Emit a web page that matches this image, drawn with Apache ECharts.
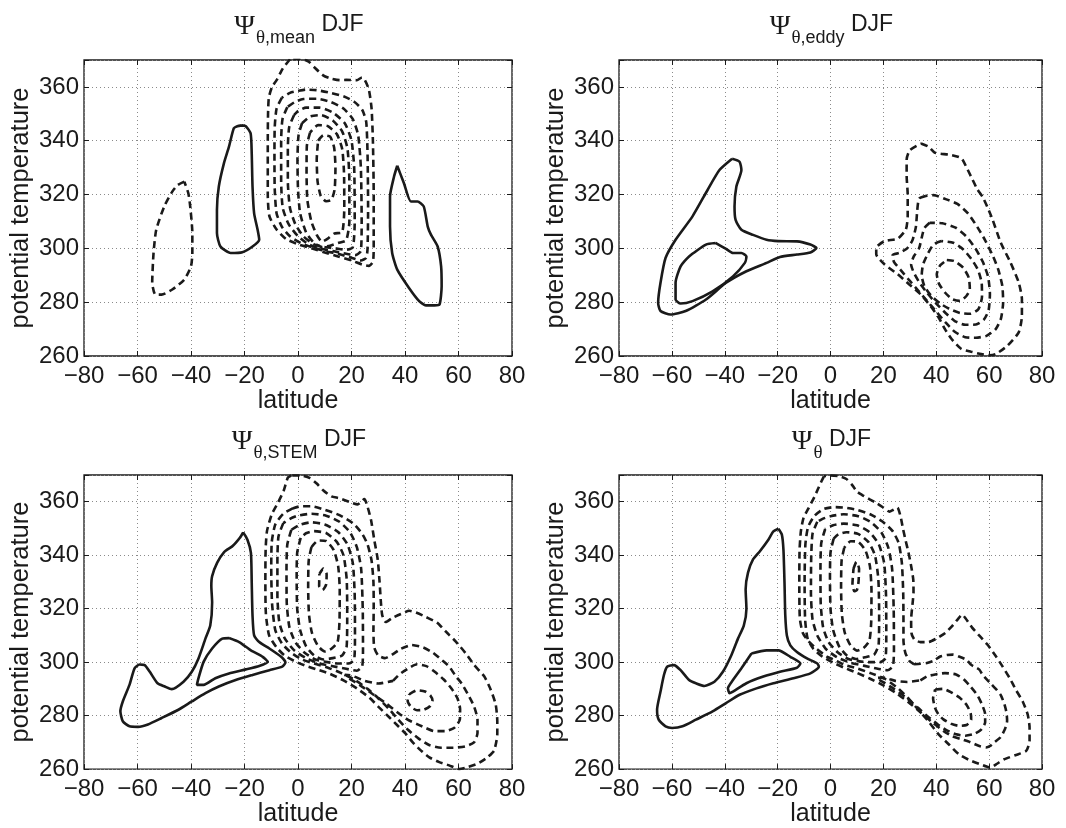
<!DOCTYPE html>
<html>
<head>
<meta charset="utf-8">
<script src="https://cdn.jsdelivr.net/npm/echarts@6/dist/echarts.min.js"></script>
<style>
html,body{margin:0;padding:0;background:#fff}
#chart{width:1066px;height:828px}
</style>
</head>
<body>
<div id="chart"></div>
<script>
// Axis ticks
const latTicks = [-80, -60, -40, -20, 0, 20, 40, 60, 80];
const thetaTicks = [260, 280, 300, 320, 340, 360];
const thetaTop = 370;

// ---------- Psi_theta,mean (DJF) ----------
const meanDashSH = [[-42.5,324.8],[-45,323.5],[-47,321.1],[-50,315.6],[-53,306.9],[-54,298.3],[-54.5,287.2],[-53.3,282.8],[-51,282.8],[-47,284.7],[-42.5,288.4],[-40,293.3],[-39.5,298.3],[-39.5,305.7],[-40.3,315.6],[-41,320.5],[-42.5,324.8]];
const meanSolidSH = [[-21,345.7],[-22.7,345.4],[-24,344.6],[-25.8,337.8],[-27.7,331.6],[-29.6,323],[-30.3,314.3],[-30.3,305.7],[-29,300.7],[-25.2,298.3],[-20.8,298.6],[-17,300.7],[-14.5,303.2],[-15.1,306.9],[-16.4,313],[-17,323],[-17.3,335.3],[-17.7,342.7],[-19.5,345.4],[-21,345.7]];
const meanSolidNH = [[37.1,330.7],[39.6,324.2],[42.2,317.4],[44.7,317.4],[47,315.6],[48.5,308.1],[49.7,305.1],[52.2,300.7],[53.5,293.3],[53.7,285.9],[52.9,279.1],[51,278.8],[47.8,278.8],[45.3,280.4],[41.5,285.3],[37.1,292.1],[35.2,298.3],[34.4,308.1],[34.4,319.3],[35.9,326.7],[37.1,330.7]];
const meanTrop1 = [[-3,370.3],[-5.7,366.8],[-8,362.5],[-9.7,360],[-10.9,356],[-11.2,350],[-11.3,340],[-11.3,320],[-10.7,312],[-8,307],[-4.5,303.5],[0,301.5],[5,300],[10,298.5],[15,297],[20,295.5],[24,294],[26.5,293.5],[28,295],[28.3,300],[28.3,320],[28,340],[27.5,352],[26.5,359],[25,362.5],[23.9,363.5],[22,362.5],[18,362.6],[15.7,362.5],[12,363.2],[9.4,364.3],[6,367.4],[4,369.4],[1,370.5],[-3,370.3]];
const meanTrop2 = [[-6,356],[-8,352],[-8.7,345],[-8.8,335],[-8.7,322],[-8,313],[-6,308],[-3,304.5],[1,302],[5,300.5],[10,299],[15,298],[20,296.5],[23.5,295.5],[25.5,296.5],[26,300],[26.2,315],[26,335],[25.5,347],[24,351.5],[21,354.5],[17,356.5],[12,357.8],[7,358.8],[3,359],[0,358.5],[-3,357.8],[-6,356]];
const meanTrop3 = [[-4,352.5],[-5.8,348],[-6.3,340],[-6.3,325],[-5.7,315],[-3.5,309],[0,304.5],[4,301.5],[8,300],[13,299],[18,298],[21.5,297.5],[23.5,299],[23.8,310],[23.5,330],[22.5,342],[20.5,348],[17,352],[12,354.5],[7,355.6],[2,355.5],[-1,354.5],[-4,352.5]];
const meanTrop4 = [[-1.5,349.5],[-3.3,345],[-3.8,337],[-3.8,325],[-3,315],[-1,309],[2,304.5],[6,301.5],[10,300.5],[14,300],[18,299.5],[20.5,300.5],[21.2,310],[21,330],[20,340],[17.5,346.5],[13,350.5],[8,352.3],[3,352.3],[0,351],[-1.5,349.5]];
const meanTrop5 = [[1.5,346.5],[0.2,342],[-0.2,333],[0,322],[0.8,313],[3,306],[6,302],[9,300.5],[12,301],[15,302],[18,303],[19.2,310],[19.2,325],[18.5,337],[16.5,343.5],[13,347.5],[8.5,349.5],[4.5,349],[1.5,346.5]];
const meanTrop6 = [[4.5,343],[3.3,338],[3.2,328],[3.5,318],[5,310],[7,305],[9,302.5],[11,303.5],[13.5,305.5],[16.5,306],[17.3,315],[17.2,328],[16.5,337],[14.5,342.5],[11,345.5],[7.5,345.8],[4.5,343]];
const meanTrop7 = [[7.5,340],[9.5,342],[12,341.5],[13.5,337.5],[14,330],[13.7,322],[12.5,318],[10.5,317.5],[8.5,319.5],[7.3,325],[7,333],[7.5,340]];

// ---------- Psi_theta,eddy (DJF) ----------
const eddySolidOuter = [[-37.2,333.3],[-34.4,332.2],[-33.7,329.1],[-35.6,323],[-36.3,315.6],[-35.9,310.6],[-33.7,306.9],[-29.3,305],[-24.2,303.2],[-19.7,302.7],[-12.7,302.6],[-7.6,301.4],[-5.3,300.1],[-7.6,298.5],[-12.7,297.7],[-19.1,296.8],[-24.2,294.6],[-31.8,291.5],[-39.5,287.2],[-47.1,281],[-54.8,276.7],[-60.5,275.4],[-64.3,276.7],[-65.2,279.8],[-64.3,287.2],[-62.4,296.4],[-58.6,303.2],[-52.2,311.9],[-46.5,321.7],[-42,329.1],[-37.2,333.3]];
const eddySolidInner = [[-43.5,302],[-47.1,301.4],[-53.5,297],[-56.7,293.3],[-58.6,287.2],[-58.6,281],[-56.7,279.5],[-52.2,280.4],[-44.6,284],[-36.9,289.6],[-32.4,294.6],[-31.8,297],[-33.7,298.3],[-36.9,298.3],[-39.5,299.8],[-43.5,302]];
const eddyNH1 = [[34.2,339],[37.1,337.8],[39.6,335.5],[45,334.8],[49.5,333.5],[51.5,330],[53.5,326],[55.5,322],[57.6,319],[59.5,315],[61.3,310.7],[64.4,302.1],[68.1,294.7],[71.2,287.3],[72.4,281.1],[72.4,274.9],[71.2,268.8],[66.9,263.8],[62.5,260.7],[60,260.3],[57,260.7],[53.2,261.6],[49.5,262.6],[45.8,266.3],[43.3,270],[40.9,274.3],[37.8,278.6],[34,283],[29.7,286.7],[25.4,290.4],[20.4,294.1],[17.3,297.8],[17.3,300.2],[20.4,302.7],[25.4,303.6],[28.5,307],[29.2,312],[29.2,320],[28.8,327],[28.8,333],[30,336.5],[34.2,339]];
const eddyNH2 = [[36,319.5],[33.5,318.5],[32.8,314],[32.3,308],[31,303],[29,300],[26,298.3],[23.5,297.5],[24,295],[26.5,292],[29.5,288.5],[33,284.5],[36.5,280.5],[40,276.5],[43.5,272.5],[47,269],[51,267],[55,266.8],[59,267.5],[62.5,270],[64.5,274],[65.3,280],[65,286],[63.5,292],[61.5,297],[58.5,303],[55.5,308],[52,313],[48,316.5],[43,318.5],[39,319.8],[36,319.5]];
const eddyNH3 = [[37.5,309.5],[35.5,307.5],[34.5,304],[33.5,300],[31.5,297],[30.5,294],[31.5,291],[33.5,287.5],[36.5,283.5],[40,279.5],[43.5,276],[47,273],[51,271.6],[55,271.7],[58,273.5],[59.8,277],[60.3,283],[59.6,289.5],[57.6,295],[54.8,300],[51.3,304.5],[47.3,307.7],[42.3,309.3],[37.5,309.5]];
const eddyNH4 = [[42,302.7],[39,301.5],[36.8,298],[35,294],[34.5,290],[35.5,286],[38,282.5],[41.5,279.5],[45,277.5],[49,276],[53,275.7],[56,277.5],[57.3,282],[57.2,287],[55.8,292],[53.3,296],[50.2,299.6],[46.4,302.1],[42,302.7]];
const eddyNH5 = [[44,295.7],[46.8,295.3],[50.2,292.8],[52.3,289.1],[52.7,284.8],[51.4,282.3],[48.9,280.5],[46.1,281.1],[43.3,283.6],[41.1,286.7],[40.2,290.4],[41.5,293.7],[44,295.7]];

// ---------- Psi_theta,STEM (DJF) ----------
const stemSolidOuter = [[-20.5,348.5],[-21.8,346.4],[-23.3,344.6],[-24.6,343.3],[-27.7,341.1],[-30.2,337.2],[-32.1,332.2],[-32.4,328.5],[-32.1,322.3],[-32.8,313.7],[-34.6,308.8],[-37.2,301.4],[-39.7,296.4],[-42.8,292.7],[-47.2,289.9],[-49.8,290.9],[-52.5,292.1],[-55.4,296.4],[-57.3,298.9],[-59.2,299.1],[-61.1,297.7],[-63,291.5],[-65.5,285.3],[-66.4,281.6],[-65.5,277.9],[-63,276],[-59.8,275.8],[-56.1,276.7],[-51,279.1],[-44.7,282.2],[-39.7,285.3],[-34.6,288.4],[-29.6,290.9],[-23.3,293.3],[-17,295.2],[-10.7,297],[-5.9,298.3],[-4.7,299.9],[-6.3,302],[-10.7,305.1],[-14.5,307.5],[-16.4,310],[-17,317.4],[-17.3,329.8],[-17.6,340.9],[-18.9,345.8],[-20.5,348.5]];
const stemSolidInner = [[-25.8,309],[-28.3,308.8],[-32.1,305.1],[-35.3,300.1],[-37.4,293.3],[-37.8,291.5],[-35.3,291.5],[-30.9,294],[-25.8,295.8],[-19.5,297.3],[-14.5,298.6],[-11.3,300.1],[-13.2,302],[-17.6,304.4],[-22,307.5],[-25.8,309]];
const stemMerged1 = [[-2.5,369.8],[-3.8,369],[-5.4,364],[-7.5,359.6],[-9.8,355.3],[-11.6,349],[-12.1,342],[-12.2,330],[-12,318],[-10.8,310],[-8,305.5],[-4.8,302.3],[-0.5,300],[3,298.6],[7,297.3],[12,295.6],[17,293.2],[22,290.2],[26.7,286.7],[30.4,283],[34.2,279.3],[37.3,276.2],[40.4,273.1],[42.9,270],[46,266.9],[49.1,264.4],[52.8,262.6],[56.5,261.4],[60.2,260],[62.7,260.5],[67.1,262],[70.8,264.4],[73.3,266.9],[74.5,273.1],[74.5,278],[73.9,284.2],[72,289.8],[69.6,294.7],[65.8,299],[62.7,303.3],[59,307.7],[55.3,311.4],[52,314.8],[47.8,316.9],[44,318.6],[41.6,319.2],[38.5,318],[35.2,316.5],[32.8,315],[31.5,317.5],[31,322.3],[30.5,330],[29.8,338.4],[28.5,345.8],[27.3,353.2],[26,358.1],[24.8,361],[22.3,359],[19.5,359.8],[15.5,361.3],[12.5,362],[9.4,364.3],[7,366.8],[4.5,368.8],[1,369.8],[-2.5,369.8]];
const stemMerged2 = [[-2,357.5],[-5.5,355.5],[-8.5,351.5],[-9.8,345],[-10,335],[-9.7,322],[-8.5,312],[-6,307],[-2.5,303.5],[1.5,301],[6,299.5],[11,298],[16,296],[21,293.5],[26,290],[30,286.5],[34,282.5],[37.5,278.5],[41,274.8],[45,271.5],[49,269],[53.5,268],[58,268],[62.5,268.5],[65.8,270],[67.1,273.5],[67.1,278.5],[65.8,283.5],[63.5,288],[61.2,292],[58.8,295],[56.5,298.4],[53.5,301],[50.5,303.5],[46.8,305.5],[42.5,306.4],[38.5,305],[35.5,303],[32.5,301.5],[30,302.5],[28.5,305.5],[28.2,312],[28.3,320],[28.2,330],[27.5,338],[26,344],[24,348],[20.5,352],[15.5,355],[10,357],[5,358.3],[1,358.3],[-2,357.5]];
const stemTrop3 = [[-5.5,352],[-7.3,347],[-7.7,338],[-7.7,325],[-7,315],[-5,309],[-1.5,304.5],[3,301.5],[8,299.5],[13,298.5],[18,297.5],[22,296.8],[24,298.5],[24.3,305],[24.2,320],[23.6,335],[22,343],[19.5,348.5],[15.5,352.5],[10.5,354.8],[5,355.5],[0,354.8],[-3,353.6],[-5.5,352]];
const stemTrop4 = [[-2.5,349.5],[-4,344],[-4.3,335],[-4.2,322],[-3.2,313],[-1,307.5],[2.5,303.5],[6.5,301],[11,300],[15,299.5],[19,299.5],[21,301],[21.3,310],[21.2,325],[20.5,337],[18.5,344],[15,348.7],[10,351.5],[5,352.3],[1,351.5],[-2.5,349.5]];
const stemTrop5 = [[1,346.5],[-0.3,341],[-0.5,332],[-0.3,320],[0.8,312],[3,306],[6,302.5],[9.5,301],[13,301.5],[16.5,302.5],[18.2,306],[18.4,318],[18.2,331],[17,340],[14.5,345],[10.5,348.3],[6,349],[3,348.2],[1,346.5]];
const stemTrop6 = [[5,343],[4,338],[3.8,328],[4.1,318],[5.2,311],[7.5,306],[10,304],[12.5,305],[14.8,307.5],[15.5,315],[15.6,327],[15,336],[13.3,342],[10.5,345.3],[7.5,345.5],[5,343]];
const stemTrop7 = [[8,333],[9.5,335],[10.7,333],[10.5,329],[9.2,327],[7.9,328.5],[8,333]];
const stemNH3 = [[35.5,293],[38,295.5],[41,297.5],[44.5,299.2],[48,298.5],[51,296.5],[54.5,293.5],[57.5,290],[59.6,286.5],[60.6,282.5],[60.5,278.5],[58.5,275.5],[55,274.2],[51,274.2],[47.5,275.5],[44.5,276.8],[41,278.5],[37.5,281],[33,284.5],[28,288],[23,291.5],[19,294],[17.5,295.3],[20,295],[25,293],[30,292],[35.5,293]];
const stemNH4 = [[41.6,288],[44.5,289.5],[47.5,289],[49.5,287.5],[50.3,285.5],[49.3,283.5],[47,282.2],[44.5,282],[42.3,283.2],[41,285.5],[41.6,288]];

// ---------- Psi_theta (DJF) ----------
const totSolidOuter = [[-19.7,349.9],[-21.6,348.9],[-23.5,345.8],[-26.7,341.5],[-29.3,338.4],[-31.2,333.5],[-32.1,327.3],[-31.8,319.9],[-32.8,313.7],[-35,308.8],[-37.5,302.6],[-40.7,296.4],[-43.9,292.7],[-47.7,291.1],[-50.9,292.1],[-53.5,293.3],[-56.7,297],[-59.2,298.9],[-61.8,298.3],[-63,295.2],[-64.3,289],[-65.6,282.2],[-65,278.5],[-62.4,276],[-59.9,275.4],[-56,276],[-50.9,278.5],[-44.6,281.6],[-39.5,284.7],[-34.4,287.8],[-28,290.2],[-21.6,292.1],[-14,294],[-7.6,295.8],[-4.4,298.3],[-5,299.5],[-8.9,301.4],[-12.7,303.8],[-15.2,306.3],[-16.5,310],[-17.1,317.4],[-17.4,329.8],[-17.8,342.1],[-18.4,347.7],[-19.7,349.9]];
const totSolidInner = [[-29.9,303.2],[-24.2,304.4],[-19.7,304.4],[-15.2,302],[-11.4,299.5],[-12.7,297.9],[-19.1,296.4],[-25.4,294.6],[-31.8,292.1],[-36.9,289],[-38.2,288.4],[-38.8,290.2],[-36.9,293.3],[-33.7,297.7],[-29.9,303.2]];
const totMerged1 = [[-2.5,369.5],[-3.5,367.5],[-6,362],[-8.5,357.2],[-10.2,354],[-11.2,349],[-11.7,342],[-11.8,330],[-11.6,316.4],[-10.5,311],[-8.5,308],[-5.5,305.2],[-1.5,302.2],[2,300.6],[5.2,299],[10.3,297.6],[15.4,295.8],[20.5,293.8],[25.6,290.2],[29.4,286.5],[33.2,282.2],[37,277.9],[40.9,273],[44.7,269.3],[48.5,265.6],[52.3,263.5],[57,261.7],[60.5,260.6],[63,262],[65.5,263.6],[70.2,265.3],[74,266.8],[75.3,270.5],[75.3,275.5],[74.6,280.4],[72.7,285.3],[70.2,289.5],[67.8,294],[65,298.5],[62.5,302.3],[59.5,306.4],[56.5,309.7],[53.5,313],[51,316.5],[49.8,317.8],[48.5,316.5],[46,313.5],[43.5,311],[40,308.8],[37,307.5],[34,307.5],[31.7,308.5],[30.6,311],[30.5,316],[31,321.5],[31.4,326],[31.3,331],[30.5,336],[29.5,341],[28.3,346],[27.4,350],[26.5,354.5],[25.3,357.8],[23.8,357],[22.3,356.3],[20,357.8],[17.5,359.4],[15,360.8],[12,362.5],[10,363.8],[8,366.5],[6,368.5],[3,369.6],[0,369.8],[-2.5,369.5]];
const totMerged2 = [[31.6,299.2],[34,299.4],[36.5,299.7],[39,300.5],[41.5,302.1],[44,302.7],[46.4,302.8],[48.3,302.2],[51.4,300.9],[53.2,299],[56.3,297.2],[57.5,295.3],[60.6,292],[63,289.5],[64.5,287.5],[65.8,284.2],[66.6,281],[66.8,278],[66,275],[64.3,271.9],[62,270],[60.6,268.8],[58.8,268.1],[56.3,268.6],[54.4,269.4],[52,270.4],[49.5,271.2],[46,272.3],[42.7,274.3],[38.5,277.5],[34,281.3],[29.5,285],[25,288.3],[20,291.3],[15,293.8],[10,296],[5,298],[1,299.8],[-3,302],[-6.5,305],[-8.7,309],[-9.6,316],[-9.8,330],[-9.5,344],[-8.5,350.5],[-6,354.8],[-2.5,357.3],[1.5,358],[5.5,357.8],[10,357],[15,355.3],[19.5,352.7],[23.5,349],[25.8,344.5],[27,337],[27.5,326],[27.6,315],[27.6,308],[28.3,303.5],[29.8,300.5],[31.6,299.2]];
const totTrop3 = [[-5,352.5],[-6.8,348],[-7.3,339],[-7.4,326],[-6.8,316],[-5,310],[-1.8,305],[2.5,301.8],[7.5,299.8],[12.5,298.7],[17.5,297.6],[21.5,297],[23.6,298.5],[24,305],[23.9,320],[23.3,335],[21.8,343],[19.2,348.6],[15.2,352.4],[10.5,354.6],[5,355.3],[0,354.6],[-3,353.6],[-5,352.5]];
const totTrop4 = [[-2,349.8],[-3.5,344.5],[-3.8,335],[-3.7,322],[-2.8,313],[-0.7,307.5],[2.8,303.6],[6.8,301.2],[11,300.3],[15,300],[18.8,300],[20.8,301.5],[21.1,310],[21,325],[20.3,337],[18.3,344],[14.8,348.6],[10,351.2],[5,351.8],[1,351.2],[-2,349.8]];
const totTrop5 = [[1.2,346.2],[0,341],[-0.2,332],[0,320],[1,312],[3.2,306],[6.2,302.5],[9.6,301.2],[13,301.8],[16.5,302.8],[18.2,306.5],[18.4,318],[18.1,331],[16.8,340],[14.3,345],[10.4,348],[6,348.6],[3,347.8],[1.2,346.2]];
const totTrop6 = [[5.2,342.8],[4.2,338],[4,328],[4.3,318],[5.4,311],[7.6,306.2],[10,304.3],[12.5,305.3],[14.7,308],[15.4,315],[15.5,327],[14.9,336],[13.2,341.8],[10.4,345],[7.6,345.2],[5.2,342.8]];
const totTrop7 = [[8.7,335],[9.8,337.5],[10.8,335],[10.6,330],[10,327],[9,326.5],[8.3,329],[8.7,335]];
const totNH3 = [[34,293.2],[36.5,294.7],[39.6,295.4],[43.3,295.9],[47.5,295.4],[50.5,293.5],[53,290.8],[55.5,287.7],[57.3,284.2],[58.5,280.5],[58.5,277.5],[57,274.8],[54.5,273.2],[51,272.5],[47.5,273],[44,274.5],[40.5,276.8],[37,279.5],[33,283],[28.5,286.8],[24,290],[20,292.5],[17.5,294],[20,294.2],[24.5,293],[29,292.6],[34,293.2]];
const totNH4 = [[39.6,289.8],[42.5,290],[45.5,288.8],[48.9,286.7],[51.5,284],[53,281],[53.2,278.5],[51.5,276.5],[48.5,276.2],[45.5,277],[42.7,278.6],[40.8,280.5],[39.5,283],[38.8,286.5],[39.6,289.8]];

// Panel titles: subscript text after the theta
const titleSubs = [',mean', ',eddy', ',STEM', ''];

// Solid = positive, dashed = negative contours
const panelCurves = [
  { solid: [meanSolidSH, meanSolidNH],
    dashed: [meanDashSH, meanTrop1, meanTrop2, meanTrop3, meanTrop4, meanTrop5, meanTrop6, meanTrop7] },
  { solid: [eddySolidOuter, eddySolidInner],
    dashed: [eddyNH1, eddyNH2, eddyNH3, eddyNH4, eddyNH5] },
  { solid: [stemSolidOuter, stemSolidInner],
    dashed: [stemMerged1, stemMerged2, stemTrop3, stemTrop4, stemTrop5, stemTrop6, stemTrop7, stemNH3, stemNH4] },
  { solid: [totSolidOuter, totSolidInner],
    dashed: [totMerged1, totMerged2, totTrop3, totTrop4, totTrop5, totTrop6, totTrop7, totNH3, totNH4] }
];

const boxes = [
  { left: 84, top: 60, width: 428, height: 296 },
  { left: 619, top: 60, width: 423, height: 296 },
  { left: 84, top: 475, width: 428, height: 296 },
  { left: 619, top: 475, width: 423, height: 296 }
];

const INK = '#1a1a1a';
const SANS = 'Liberation Sans, Arial, Helvetica, sans-serif';
const SERIF = 'Liberation Serif, Times New Roman, serif';
const latFmt = v => (v < 0 ? '\u2212' + Math.abs(v) : String(v));
const thFmt = v => (thetaTicks.indexOf(v) >= 0 ? String(v) : '');

const grid = [], xAxis = [], yAxis = [], series = [], title = [];

const tickStyle = { show: true, inside: true, length: 5, lineStyle: { color: INK, width: 1 } };
const gridLine = { show: true, lineStyle: { color: '#8a8a8a', width: 1, type: [1, 3] } };

boxes.forEach((b, i) => {
  grid.push({ left: b.left, top: b.top, width: b.width, height: b.height,
    show: true, borderColor: INK, borderWidth: 1.3, backgroundColor: 'transparent', containLabel: false });

  const xBase = { gridIndex: i, type: 'value', min: latTicks[0], max: latTicks[latTicks.length - 1],
    interval: latTicks[1] - latTicks[0], axisLine: { show: false, onZero: false } };
  const yBase = { gridIndex: i, type: 'value', min: thetaTicks[0], max: thetaTop,
    interval: thetaTicks[1] - thetaTicks[0], axisLine: { show: false, onZero: false } };

  xAxis.push(Object.assign({}, xBase, {
    position: 'bottom',
    name: 'latitude', nameLocation: 'middle', nameGap: 29,
    nameTextStyle: { fontFamily: SANS, fontSize: 25, color: INK },
    axisTick: tickStyle,
    axisLabel: { formatter: latFmt, fontFamily: SANS, fontSize: 24, color: INK, margin: 8 },
    splitLine: gridLine
  }));
  xAxis.push(Object.assign({}, xBase, {
    position: 'top', axisTick: tickStyle, axisLabel: { show: false }, splitLine: { show: false }
  }));
  yAxis.push(Object.assign({}, yBase, {
    position: 'left',
    name: 'potential temperature', nameLocation: 'middle', nameGap: 50,
    nameTextStyle: { fontFamily: SANS, fontSize: 25.5, color: INK },
    axisTick: tickStyle,
    axisLabel: { formatter: thFmt, fontFamily: SANS, fontSize: 24, color: INK, margin: 5 },
    splitLine: gridLine
  }));
  yAxis.push(Object.assign({}, yBase, {
    position: 'right', axisTick: tickStyle, axisLabel: { show: false }, splitLine: { show: false }
  }));

  const sub = titleSubs[i];
  title.push({
    text: '{psi|\u03A8}{th|\u03B8}' + (sub ? '{sub|' + sub + '}' : '') + '{djf| DJF}',
    left: b.left + b.width / 2 - 4, top: b.top - 52, textAlign: 'center',
    textStyle: {
      fontWeight: 'normal',
      rich: {
        psi: { fontFamily: SERIF, fontSize: 28, fontWeight: 'normal', lineHeight: 26, verticalAlign: 'top', color: INK },
        th: { fontFamily: SERIF, fontSize: 19, fontWeight: 'normal', lineHeight: 50, padding: [0, 0, 0, 1], color: INK },
        sub: { fontFamily: SANS, fontSize: 18, fontWeight: 'normal', lineHeight: 50, color: INK },
        djf: { fontFamily: SANS, fontSize: 23, fontWeight: 'normal', lineHeight: 26, verticalAlign: 'top', color: INK }
      }
    }
  });

  const curves = panelCurves[i];
  curves.solid.forEach(d => series.push({
    type: 'line', xAxisIndex: 2 * i, yAxisIndex: 2 * i, data: d,
    showSymbol: false, smooth: 0.2, clip: true, silent: true,
    lineStyle: { color: INK, width: 2.6, type: 'solid' }
  }));
  curves.dashed.forEach(d => series.push({
    type: 'line', xAxisIndex: 2 * i, yAxisIndex: 2 * i, data: d,
    showSymbol: false, smooth: 0.2, clip: true, silent: true,
    lineStyle: { color: INK, width: 2.6, type: [7, 4.5] }
  }));
});

const chart = echarts.init(document.getElementById('chart'), null, { renderer: 'canvas' });
chart.setOption({
  backgroundColor: '#ffffff',
  animation: false,
  title, grid, xAxis, yAxis, series
});
</script>
</body>
</html>
